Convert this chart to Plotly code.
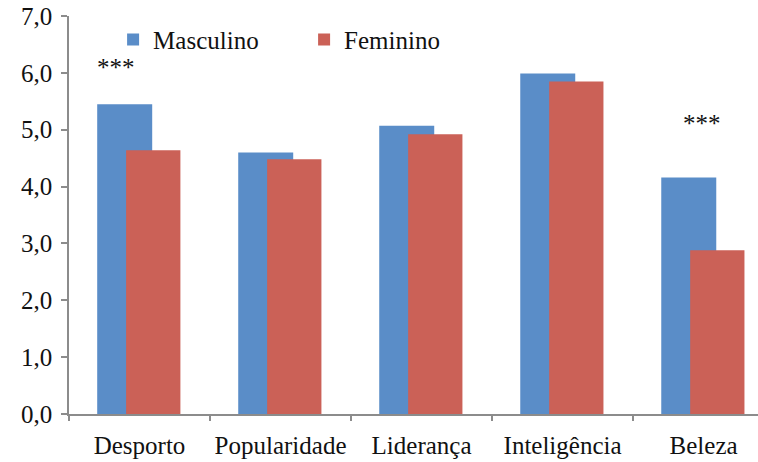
import plotly.graph_objects as go

categorias = ['Desporto', 'Popularidade', 'Liderança', 'Inteligência', 'Beleza']
masculino = [5.45, 4.60, 5.07, 5.99, 4.16]
feminino = [4.64, 4.48, 4.92, 5.85, 2.88]
yticks = [0, 1, 2, 3, 4, 5, 6, 7]
ytick_text = ['0,0', '1,0', '2,0', '3,0', '4,0', '5,0', '6,0', '7,0']

fonte = dict(family="'Liberation Serif', 'Times New Roman', Times, 'DejaVu Serif', serif",
             size=25, color='#111111')
cinza = '#8c8c8c'

data = [
    go.Bar(x=categorias, y=masculino, name='Masculino',
           marker_color='#5A8DC8', marker_line_width=0,
           offset=-0.30, width=0.39),
    go.Bar(x=categorias, y=feminino, name='Feminino',
           marker_color='#CB6157', marker_line_width=0,
           offset=-0.095, width=0.385),
]

layout = go.Layout(
    width=758, height=462,
    barmode='overlay',
    paper_bgcolor='white',
    plot_bgcolor='white',
    font=fonte,
    margin=go.layout.Margin(l=69, r=0, t=16, b=48, pad=0, autoexpand=False),
    xaxis=dict(
        range=[-0.5, 4.386],
        showline=True, linecolor=cinza, linewidth=1.5,
        ticks='outside', tickson='boundaries', ticklen=5,
        tickcolor=cinza, tickwidth=1.5,
        showgrid=False, zeroline=False,
        tickfont=fonte, tickangle=0, automargin=False,
        ticklabelstandoff=8,
    ),
    yaxis=dict(
        range=[0, 7],
        tickvals=yticks, ticktext=ytick_text,
        showline=True, linecolor=cinza, linewidth=1.5,
        ticks='outside', ticklen=6, tickcolor=cinza, tickwidth=1.5,
        showgrid=False, zeroline=False,
        tickfont=fonte, ticklabelstandoff=4, automargin=False,
    ),
    legend=dict(
        orientation='h', x=0.064, xanchor='left', y=0.998, yanchor='top',
        font=fonte,
        bgcolor='rgba(0,0,0,0)', entrywidth=146, traceorder='normal',
    ),
    showlegend=True,
    annotations=[
        dict(x=-0.17, y=6.09, text='***', showarrow=False,
             font=dict(family=fonte['family'], size=25, color='#111111')),
        dict(x=3.99, y=5.11, text='***', showarrow=False,
             font=dict(family=fonte['family'], size=25, color='#111111')),
    ],
)

fig = go.Figure(data=data, layout=layout)
fig.write_html("out.html", config={'displayModeBar': False},
               post_script="document.body.style.margin='0';")
